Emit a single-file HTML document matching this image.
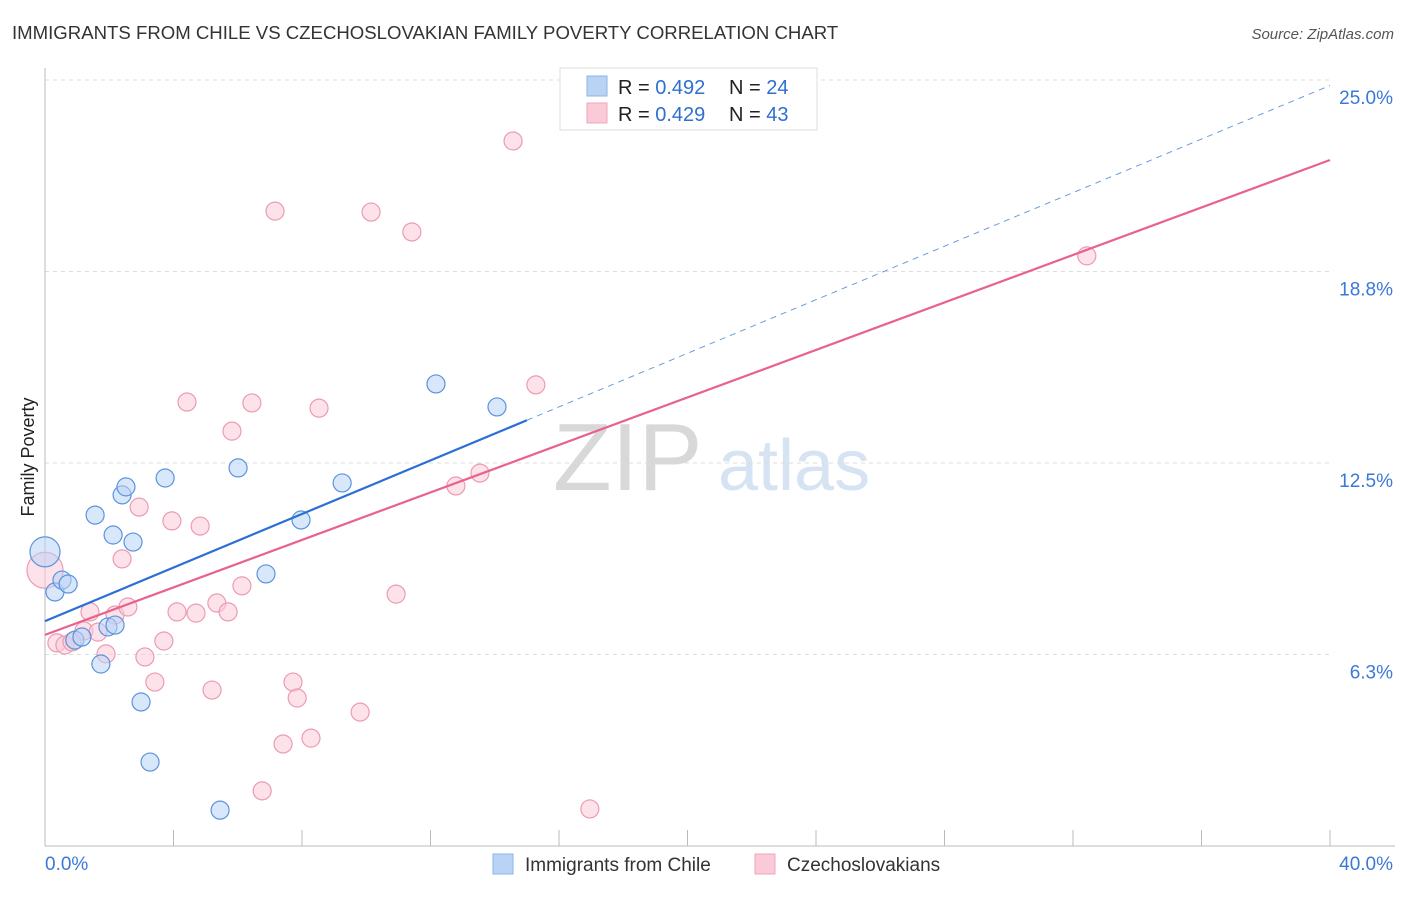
<!DOCTYPE html>
<html><head><meta charset="utf-8"><style>
body{margin:0;background:#fff;font-family:"Liberation Sans",sans-serif;}
svg text{font-family:"Liberation Sans",sans-serif;}
</style></head><body>
<svg id="chart" width="1406" height="892" xmlns="http://www.w3.org/2000/svg">
<text x="12" y="39" font-size="18.6" fill="#333">IMMIGRANTS FROM CHILE VS CZECHOSLOVAKIAN FAMILY POVERTY CORRELATION CHART</text>
<text x="1394" y="39" font-size="15" fill="#555" font-style="italic" text-anchor="end">Source: ZipAtlas.com</text>
<text x="34" y="457" font-size="18" fill="#222" text-anchor="middle" transform="rotate(-90 34 457)">Family Poverty</text>
<g>
<text x="553" y="490" font-size="96" fill="#d8d8d8" font-family="Liberation Serif">ZIP</text>
<text x="718" y="490" font-size="72" fill="#d6e3f3">atlas</text>
</g>
<g id="grid"></g>
<g id="axes"></g>
<g id="marks"></g>
<g>
<rect x="560" y="68" width="257" height="62" fill="#fff" stroke="#ddd"/>
<rect x="587" y="76" width="20" height="20" fill="#b9d3f5" stroke="#8fb3e6"/>
<rect x="587" y="103" width="20" height="20" fill="#fbcad8" stroke="#f0a4bb"/>
<text x="618" y="94" font-size="20" fill="#222">R = <tspan fill="#2f6fd0">0.492</tspan></text>
<text x="729" y="94" font-size="20" fill="#222">N = <tspan fill="#2f6fd0">24</tspan></text>
<text x="618" y="121" font-size="20" fill="#222">R = <tspan fill="#2f6fd0">0.429</tspan></text>
<text x="729" y="121" font-size="20" fill="#222">N = <tspan fill="#2f6fd0">43</tspan></text>
</g>
<g>
<rect x="493" y="854" width="20" height="20" fill="#b9d3f5" stroke="#8fb3e6"/>
<text x="525" y="871" font-size="19" fill="#333">Immigrants from Chile</text>
<rect x="755" y="854" width="20" height="20" fill="#fbcad8" stroke="#f0a4bb"/>
<text x="787" y="871" font-size="19" fill="#333">Czechoslovakians</text>
</g>
</svg>
<script>
const chileX=[0,0.31,0.53,0.72,1.56,2.12,2.40,2.52,2.74,3.74,6.01,1.96,0.93,1.15,1.74,2.99,3.27,5.45,6.88,7.97,9.25,12.17,14.07,2.18];
const chileY=[9.6,8.29,8.68,8.55,10.80,10.15,11.46,11.72,9.92,12.01,12.34,7.15,6.72,6.82,5.94,4.70,2.74,1.17,8.88,10.64,11.85,15.08,14.33,7.21];
const czechX=[0,0.37,0.62,0.84,1.21,1.40,1.65,1.90,2.18,2.58,2.40,2.93,3.11,3.42,3.70,3.95,4.11,4.42,4.70,4.83,5.20,5.35,5.70,5.82,6.13,6.44,6.76,7.16,7.41,7.72,7.85,8.28,8.53,9.81,10.15,10.93,11.42,12.79,13.54,14.57,15.28,16.96,32.43];
const czechY=[9.0,6.63,6.56,6.66,7.02,7.64,6.98,6.27,7.54,7.80,9.37,11.06,6.17,5.35,6.69,10.61,7.64,14.49,7.60,10.44,5.09,7.93,7.64,13.54,8.49,14.46,1.80,20.72,3.33,5.35,4.83,3.52,14.29,4.37,20.69,8.22,20.04,11.75,12.17,23.01,15.05,1.21,19.26];
const yTicks=[6.25,12.5,18.75,25];
const yTickLabels=["6.3%","12.5%","18.8%","25.0%"];
const xTickLabels=["0.0%","40.0%"];
const chileTrend=[7.34,0.437,15.0];
const czechTrend=[6.89,0.3875,40];

const NS="http://www.w3.org/2000/svg";
const sx=v=>45+v*1285/40;
const sy=v=>846-v*766/25;
function mk(tag,attrs,parent){const e=document.createElementNS(NS,tag);for(const k in attrs)e.setAttribute(k,attrs[k]);parent.appendChild(e);return e;}
const grid=document.getElementById('grid'),axes=document.getElementById('axes'),marks=document.getElementById('marks');
yTicks.forEach((t,i)=>{
  const l=mk('line',{x1:45,x2:1330,y1:sy(t),y2:sy(t),stroke:'#ddd','stroke-dasharray':'4,4'},grid);
  
  
  const tx=mk('text',{x:1393,y:sy(t)+24,'font-size':19,fill:'#3b78d8','text-anchor':'end'},axes);
  tx.textContent=yTickLabels[i];
  
  
});
let ya=mk('line',{x1:45,x2:45,y1:68,y2:846,stroke:'#bbb'},axes);


let xa=mk('line',{x1:45,x2:1395,y1:846,y2:846,stroke:'#bbb'},axes);


for(let i=1;i<=10;i++){
  const t=mk('line',{x1:sx(i*4),x2:sx(i*4),y1:830,y2:846,stroke:'#bbb'},axes);
  
  
}
[[0,'start',45],[40,'end',1393]].forEach((d,i)=>{
  const tx=mk('text',{x:d[2],y:870,'font-size':19,fill:'#3b78d8','text-anchor':d[1]},axes);
  tx.textContent=xTickLabels[i];
  
  
});
function dots(X,Y,fill,stroke,name){
  X.forEach((x,i)=>{
    const r=(i===0)?(name==='czech-point'?18:15):9;
    const c=mk('circle',{cx:sx(x),cy:sy(Y[i]),r:r,fill:fill,'fill-opacity':0.55,stroke:stroke,'stroke-width':1.2},marks);
    
    
  });
}
dots(czechX,czechY,'#fbcad8','#eb9bb4','czech-point');
dots(chileX,chileY,'#b9d3f5','#5b93dd','chile-point');
let cd=mk('line',{x1:sx(chileTrend[2]),y1:sy(chileTrend[0]+chileTrend[1]*chileTrend[2]),x2:sx(40),y2:sy(chileTrend[0]+chileTrend[1]*40),stroke:'#6b9be0','stroke-width':1,'stroke-dasharray':'6,5'},marks);


let pt=mk('line',{x1:sx(0),y1:sy(czechTrend[0]),x2:sx(czechTrend[2]),y2:sy(czechTrend[0]+czechTrend[1]*czechTrend[2]),stroke:'#e8628d','stroke-width':2.2},marks);


let ct=mk('line',{x1:sx(0),y1:sy(chileTrend[0]),x2:sx(chileTrend[2]),y2:sy(chileTrend[0]+chileTrend[1]*chileTrend[2]),stroke:'#2a6fd6','stroke-width':2.2},marks);


</script>
</body></html>
